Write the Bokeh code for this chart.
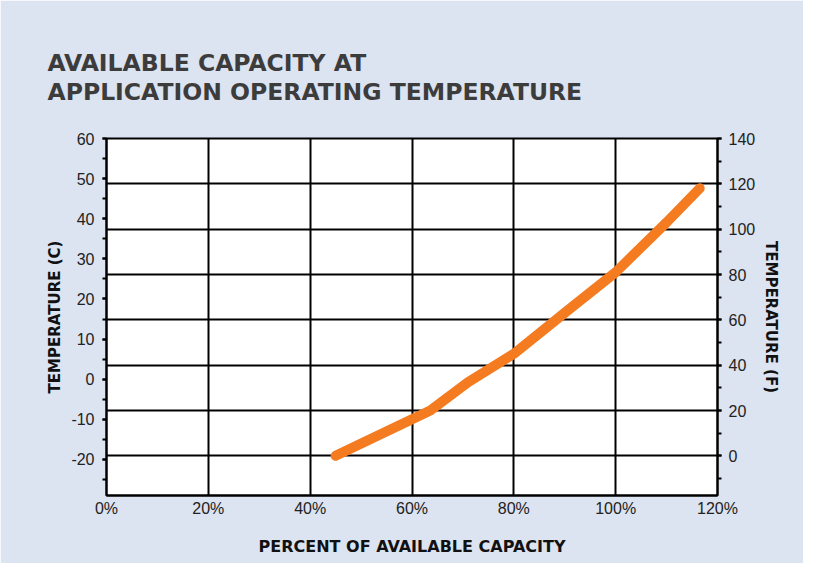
from bokeh.plotting import figure
from bokeh.models import (Range1d, LinearAxis, SingleIntervalTicker, Grid, Title,
                          PrintfTickFormatter)
from bokeh.embed import file_html
from bokeh.resources import INLINE

# ---- data ----
capacity_pct = [45, 63.6, 71, 80, 90.5, 100, 110, 116.5]
temperature_f = [0, 20, 32.5, 45, 64, 81, 103, 118]

x_ticks = [0, 20, 40, 60, 80, 100, 120]
title_lines = ["AVAILABLE CAPACITY AT", "APPLICATION OPERATING TEMPERATURE"]
x_label = "PERCENT OF AVAILABLE CAPACITY"
y_left_label = "TEMPERATURE (C)"
y_right_label = "TEMPERATURE (F)"

BG = "#DCE3F1"
TITLE_C = "#3c3c3c"
TICK_FONT = "Liberation Sans"
HEAD_FONT = "DejaVu Sans"

p = figure(width=803, height=563, output_backend="svg", toolbar_location=None,
           x_range=Range1d(0, 120), y_range=Range1d(-29, 60),
           background_fill_color="white", border_fill_color=BG,
           min_border_left=106, min_border_right=86, min_border_top=138,
           min_border_bottom=68)
p.extra_y_ranges = {"F": Range1d(-17.5, 140)}

p.outline_line_color = "black"
p.outline_line_width = 2
p.outline_line_alpha = 1

t = Title(text="\n".join(title_lines), align="left", offset=-59, standoff=64,
          text_font=HEAD_FONT, text_font_style="bold", text_font_size="23.5px",
          text_color=TITLE_C, text_line_height=1.04)
p.add_layout(t, "above")

# bottom axis
xa = p.xaxis[0]
xa.ticker = x_ticks
xa.formatter = PrintfTickFormatter(format="%d%%")
xa.major_tick_out = 0
xa.major_tick_in = 0
xa.minor_tick_out = 0
xa.minor_tick_in = 0
xa.axis_line_width = 2
xa.axis_line_color = "black"
xa.major_label_standoff = 4
xa.major_label_text_font = TICK_FONT
xa.major_label_text_font_size = "16px"
xa.major_label_text_color = "#222222"
xa.axis_label = x_label
xa.axis_label_text_font = HEAD_FONT
xa.axis_label_text_font_style = "bold"
xa.axis_label_text_font_size = "16px"
xa.axis_label_text_color = "#111111"
xa.axis_label_standoff = 17

# left axis (Celsius)
ya = p.yaxis[0]
ya.ticker = SingleIntervalTicker(interval=10, num_minor_ticks=2)
ya.formatter = PrintfTickFormatter(format="%d")
ya.major_tick_out = 4
ya.major_tick_in = 0
ya.minor_tick_out = 4
ya.minor_tick_in = 0
ya.major_tick_line_width = 2
ya.minor_tick_line_width = 2
ya.axis_line_width = 2
ya.axis_line_color = "black"
ya.major_label_standoff = 8
ya.major_label_text_font = TICK_FONT
ya.major_label_text_font_size = "16px"
ya.major_label_text_color = "#222222"
ya.axis_label = y_left_label
ya.axis_label_text_font = HEAD_FONT
ya.axis_label_text_font_style = "bold"
ya.axis_label_text_font_size = "15px"
ya.axis_label_text_color = "#111111"
ya.axis_label_standoff = 4

# right axis (Fahrenheit)
yr = LinearAxis(y_range_name="F",
                ticker=SingleIntervalTicker(interval=20, num_minor_ticks=2),
                formatter=PrintfTickFormatter(format="%d"))
yr.major_tick_out = 4
yr.major_tick_in = 0
yr.minor_tick_out = 4
yr.minor_tick_in = 0
yr.major_tick_line_width = 2
yr.minor_tick_line_width = 2
yr.axis_line_width = 2
yr.axis_line_color = "black"
yr.major_label_standoff = 7
yr.major_label_text_font = TICK_FONT
yr.major_label_text_font_size = "16px"
yr.major_label_text_color = "#222222"
yr.axis_label = y_right_label
yr.axis_label_text_font = HEAD_FONT
yr.axis_label_text_font_style = "bold"
yr.axis_label_text_font_size = "15px"
yr.axis_label_text_color = "#111111"
yr.axis_label_standoff = 4
p.add_layout(yr, "right")

# grids
p.xgrid.ticker = x_ticks
p.xgrid.grid_line_color = "black"
p.xgrid.grid_line_width = 2
p.ygrid.visible = False
gF = Grid(dimension=1, ticker=SingleIntervalTicker(interval=20),
          y_range_name="F", grid_line_color="black", grid_line_width=2)
p.add_layout(gF)

# curve
p.line(capacity_pct, temperature_f, y_range_name="F", line_width=10,
       line_color="#F47B20", line_cap="round", line_join="round")

open("out.html", "w").write(file_html(p, INLINE))
